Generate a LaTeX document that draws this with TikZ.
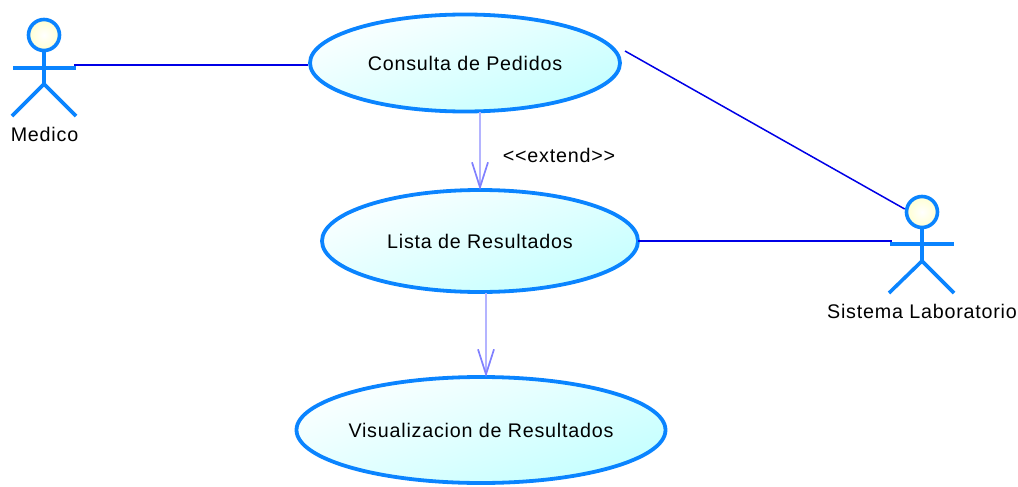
\documentclass[tikz,border=0pt]{standalone}
\usepackage{fontspec}
\setmainfont{Liberation Sans}
\usetikzlibrary{shapes.geometric,arrows.meta}
\definecolor{umlblue}{HTML}{0A84FF}
\definecolor{assoc}{HTML}{0000E6}
\definecolor{dep}{HTML}{8080FF}
\definecolor{depline}{HTML}{B4B4FF}
\definecolor{casecyan}{HTML}{C4FFFF}
\pgfdeclareverticalshading{casefill}{100bp}{color(0bp)=(casecyan); color(25bp)=(casecyan); color(78bp)=(white); color(100bp)=(white)}
\newcommand{\caselabel}[1]{\makebox[0pt]{\raisebox{-1pt}{#1}}}
\tikzset{
  labelfont/.style={font=\fontsize{19.7}{22}\selectfont\addfontfeature{LetterSpace=4}},
  usecase/.style={ellipse,draw=umlblue,line width=3.8pt,inner sep=0pt,shading=casefill,shading angle=20,labelfont,text=black},
  actorpart/.style={draw=umlblue,line width=3.6pt},
  actorhead/.style={circle,draw=umlblue,line width=3.6pt,inner sep=0pt,minimum size=31pt,inner color=white,outer color=yellow!18},
  txt/.style={labelfont,inner sep=0pt,text=black},
  assocline/.style={draw=assoc,line width=1.5pt},
  depend/.style={draw=depline,line width=1.1pt,shorten >=-2pt,-{Straight Barb[length=25pt,width=16pt,line width=1.7pt,color=dep]}}
}
\begin{document}
\begin{tikzpicture}[x=1pt,y=-1pt]
\useasboundingbox (0,0) rectangle (1018,487);
\node[usecase,minimum width=310pt,minimum height=97pt] (consulta) at (465,63) {\caselabel{Consulta de Pedidos}};
\node[usecase,minimum width=316pt,minimum height=102pt] (lista) at (480,241) {\caselabel{Lista de Resultados}};
\node[usecase,minimum width=369pt,minimum height=106pt] (visual) at (481,430) {\caselabel{Visualizacion de Resultados}};
% Medico
\node[actorhead] (medico) at (44,35) {};
\coordinate (mhip) at (44,84);
\coordinate (marmL) at (13,68);
\coordinate (marmR) at (76,68);
\coordinate (mlegL) at (12,116);
\coordinate (mlegR) at (76,116);
\draw[actorpart] (medico.south) -- (mhip);
\draw[actorpart] (marmL) -- (marmR);
\draw[actorpart] (mlegL) -- (mhip) -- (mlegR);
\node[txt] (medicolabel) at (44.5,134.5) {Medico};
% Sistema
\node[actorhead] (sistema) at (922,212) {};
\coordinate (ship) at (922,261);
\coordinate (sarmL) at (890,244);
\coordinate (sarmR) at (954,244);
\coordinate (slegL) at (889,293);
\coordinate (slegR) at (954,293);
\draw[actorpart] (sistema.south) -- (ship);
\draw[actorpart] (sarmL) -- (sarmR);
\draw[actorpart] (slegL) -- (ship) -- (slegR);
\node[txt] (sistemalabel) at (922,311) {Sistema Laboratorio};
% connectors
\coordinate (mhand) at (74,65);
\coordinate (shand) at (892,241);
\coordinate (cright) at (625,51);
\coordinate (lright) at (638,241);
\draw[assocline] (mhand) -- (consulta.west |- mhand);
\draw[assocline] (cright) -- (sistema.west |- 0,209);
\draw[assocline] (lright) -- (shand);
\draw[depend] (480,112) -- (lista.north);
\draw[depend] (486,293) -- (visual.north -| 486,0);
\node[txt] (extend) at (559,155.5) {{<}{<}extend{>}{>}};
\end{tikzpicture}
\end{document}
